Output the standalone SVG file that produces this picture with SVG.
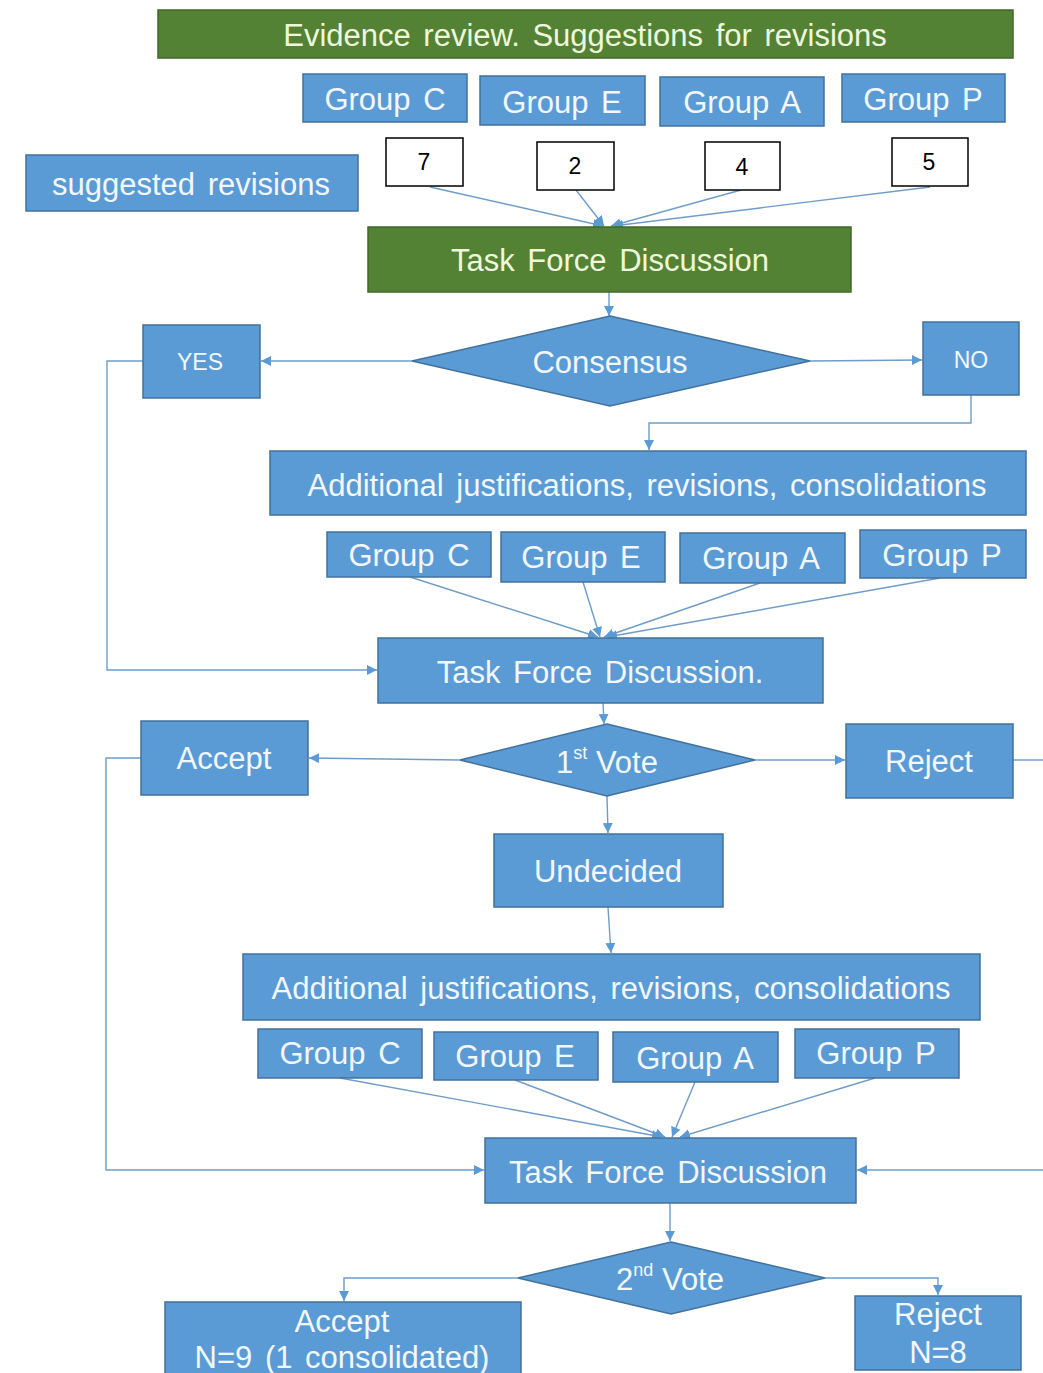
<svg xmlns="http://www.w3.org/2000/svg" width="1043" height="1373" viewBox="0 0 1043 1373">
<defs>
<style>
.b{fill:#5b9bd5;stroke:#41719c;stroke-width:1.5}
.g{fill:#548235;stroke:#3f6a28;stroke-width:1.5}
.w{fill:#ffffff;stroke:#000000;stroke-width:1.5}
.t{font-family:"Liberation Sans",Arial,sans-serif;fill:#f2f7fc;text-anchor:middle;dominant-baseline:central;font-size:31px;word-spacing:4px}
.tg{font-family:"Liberation Sans",Arial,sans-serif;fill:#eef7dc;text-anchor:middle;dominant-baseline:central;font-size:31px;word-spacing:4px}
.tn{font-family:"Liberation Sans",Arial,sans-serif;fill:#000;text-anchor:middle;dominant-baseline:central;font-size:23px}
.s{font-size:23px}
.v{word-spacing:0}
.c{fill:none;stroke:#6f9cc9;stroke-width:1.4}
</style>
<marker id="a" viewBox="0 0 10 10" refX="10" refY="5" markerWidth="10" markerHeight="10" markerUnits="userSpaceOnUse" orient="auto">
<path d="M0,0 L10,5 L0,10 Z" fill="#5b9bd5"/>
</marker>
</defs>
<rect width="1043" height="1373" fill="#ffffff"/>

<g id="connectors">
<line class="c" x1="430" y1="187" x2="603" y2="226" marker-end="url(#a)"/>
<line class="c" x1="576" y1="190" x2="604" y2="226" marker-end="url(#a)"/>
<line class="c" x1="741" y1="190" x2="611" y2="226" marker-end="url(#a)"/>
<line class="c" x1="930" y1="187" x2="613" y2="226" marker-end="url(#a)"/>
<line class="c" x1="609" y1="292" x2="609" y2="316" marker-end="url(#a)"/>
<line class="c" x1="412" y1="361" x2="261" y2="361" marker-end="url(#a)"/>
<line class="c" x1="810" y1="361" x2="922" y2="360" marker-end="url(#a)"/>
<polyline class="c" points="971,395 971,423 649,423 649,450" marker-end="url(#a)"/>
<polyline class="c" points="143,361 107,361 107,670 377,670" marker-end="url(#a)"/>
<line class="c" x1="410" y1="577" x2="598" y2="637" marker-end="url(#a)"/>
<line class="c" x1="583" y1="582" x2="600" y2="637" marker-end="url(#a)"/>
<line class="c" x1="760" y1="583" x2="604" y2="637" marker-end="url(#a)"/>
<line class="c" x1="940" y1="578" x2="607" y2="637" marker-end="url(#a)"/>
<line class="c" x1="603" y1="703" x2="604" y2="724" marker-end="url(#a)"/>
<line class="c" x1="460" y1="760" x2="309" y2="758" marker-end="url(#a)"/>
<line class="c" x1="755" y1="760" x2="845" y2="760" marker-end="url(#a)"/>
<line class="c" x1="1013" y1="760" x2="1043" y2="760"/>
<line class="c" x1="1043" y1="1170" x2="857" y2="1170" marker-end="url(#a)"/>
<line class="c" x1="607" y1="796" x2="608" y2="833" marker-end="url(#a)"/>
<line class="c" x1="608" y1="907" x2="611" y2="953" marker-end="url(#a)"/>
<polyline class="c" points="141,758 106,758 106,1170 484,1170" marker-end="url(#a)"/>
<line class="c" x1="340" y1="1078" x2="662" y2="1137" marker-end="url(#a)"/>
<line class="c" x1="515" y1="1080" x2="665" y2="1137" marker-end="url(#a)"/>
<line class="c" x1="695" y1="1082" x2="672" y2="1137" marker-end="url(#a)"/>
<line class="c" x1="875" y1="1078" x2="680" y2="1137" marker-end="url(#a)"/>
<line class="c" x1="670" y1="1203" x2="670" y2="1241" marker-end="url(#a)"/>
<polyline class="c" points="518,1278 344,1278 344,1301" marker-end="url(#a)"/>
<polyline class="c" points="825,1278 938,1278 938,1295" marker-end="url(#a)"/>
</g>

<g id="evidence-review"><rect class="g" x="158" y="10" width="855" height="48"/><text class="tg" x="585" y="35">Evidence review. Suggestions for revisions</text></g>

<g id="g1-c"><rect class="b" x="303" y="74" width="164" height="48"/><text class="t" x="385" y="99">Group C</text></g>
<g id="g1-e"><rect class="b" x="480" y="76" width="165" height="49"/><text class="t" x="562" y="102">Group E</text></g>
<g id="g1-a"><rect class="b" x="660" y="77" width="164" height="49"/><text class="t" x="742" y="102">Group A</text></g>
<g id="g1-p"><rect class="b" x="842" y="74" width="163" height="48"/><text class="t" x="923" y="99">Group P</text></g>

<g id="n7"><rect class="w" x="386" y="138" width="77" height="48"/><text class="tn" x="424" y="162">7</text></g>
<g id="n2"><rect class="w" x="537" y="142" width="77" height="48"/><text class="tn" x="575" y="166">2</text></g>
<g id="n4"><rect class="w" x="705" y="142" width="75" height="48"/><text class="tn" x="742" y="167">4</text></g>
<g id="n5"><rect class="w" x="892" y="138" width="76" height="48"/><text class="tn" x="929" y="162">5</text></g>

<g id="suggested"><rect class="b" x="26" y="155" width="332" height="56"/><text class="t" x="191" y="184">suggested revisions</text></g>

<g id="tfd1"><rect class="g" x="368" y="227" width="483" height="65"/><text class="tg" x="610" y="260">Task Force Discussion</text></g>

<g id="consensus"><polygon class="b" points="610,316 810,361 610,406 412,361"/><text class="t" x="610" y="362">Consensus</text></g>
<g id="yes"><rect class="b" x="143" y="325" width="117" height="73"/><text class="t s" x="200" y="362">YES</text></g>
<g id="no"><rect class="b" x="923" y="322" width="96" height="73"/><text class="t s" x="971" y="360">NO</text></g>

<g id="add1"><rect class="b" x="270" y="451" width="756" height="64"/><text class="t" x="647" y="485">Additional justifications, revisions, consolidations</text></g>

<g id="g2-c"><rect class="b" x="327" y="532" width="164" height="45"/><text class="t" x="409" y="555">Group C</text></g>
<g id="g2-e"><rect class="b" x="501" y="532" width="164" height="50"/><text class="t" x="581" y="557">Group E</text></g>
<g id="g2-a"><rect class="b" x="680" y="533" width="165" height="50"/><text class="t" x="761" y="558">Group A</text></g>
<g id="g2-p"><rect class="b" x="860" y="530" width="166" height="48"/><text class="t" x="942" y="555">Group P</text></g>

<g id="tfd2"><rect class="b" x="378" y="638" width="445" height="65"/><text class="t" x="600" y="672">Task Force Discussion.</text></g>

<g id="vote1"><polygon class="b" points="607,724 755,760 607,796 460,760"/><text class="t v" x="607" y="762">1<tspan font-size="18" dy="-9">st</tspan><tspan dy="9"> Vote</tspan></text></g>
<g id="accept1"><rect class="b" x="141" y="721" width="167" height="74"/><text class="t" x="224" y="758">Accept</text></g>
<g id="reject1"><rect class="b" x="846" y="724" width="167" height="74"/><text class="t" x="929" y="761">Reject</text></g>

<g id="undecided"><rect class="b" x="494" y="834" width="229" height="73"/><text class="t" x="608" y="871">Undecided</text></g>

<g id="add2"><rect class="b" x="243" y="954" width="737" height="66"/><text class="t" x="611" y="988">Additional justifications, revisions, consolidations</text></g>

<g id="g3-c"><rect class="b" x="258" y="1029" width="164" height="49"/><text class="t" x="340" y="1053">Group C</text></g>
<g id="g3-e"><rect class="b" x="434" y="1032" width="164" height="48"/><text class="t" x="515" y="1056">Group E</text></g>
<g id="g3-a"><rect class="b" x="613" y="1032" width="165" height="50"/><text class="t" x="695" y="1058">Group A</text></g>
<g id="g3-p"><rect class="b" x="795" y="1029" width="164" height="49"/><text class="t" x="876" y="1053">Group P</text></g>

<g id="tfd3"><rect class="b" x="485" y="1138" width="371" height="65"/><text class="t" x="668" y="1172">Task Force Discussion</text></g>

<g id="vote2"><polygon class="b" points="671,1242 825,1278 671,1314 518,1278"/><text class="t v" x="670" y="1279">2<tspan font-size="18" dy="-9">nd</tspan><tspan dy="9"> Vote</tspan></text></g>

<g id="accept2"><rect class="b" x="165" y="1302" width="356" height="80"/><text class="t" x="342" y="1321">Accept</text><text class="t" x="342" y="1357">N=9 (1 consolidated)</text></g>
<g id="reject2"><rect class="b" x="855" y="1296" width="166" height="74"/><text class="t" x="938" y="1314">Reject</text><text class="t" x="938" y="1352">N=8</text></g>
</svg>
